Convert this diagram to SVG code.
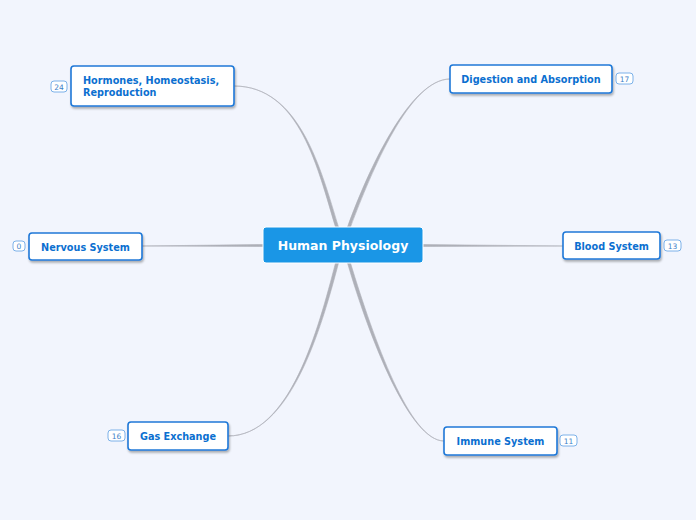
<svg xmlns="http://www.w3.org/2000/svg" width="696" height="520" viewBox="0 0 696 520">
<defs>
<filter id="sh" x="-10%" y="-20%" width="120%" height="150%">
<feDropShadow dx="1" dy="2" stdDeviation="1" flood-color="#000" flood-opacity="0.3"/>
</filter>
<style>
.node{fill:#fff;stroke:#1f78d8;stroke-width:1.6;filter:url(#sh)}
.nt{font-family:"DejaVu Sans",Verdana,sans-serif;font-weight:bold;font-size:9.7px;fill:#0b6fd0}
.badge{fill:#fff;stroke:#5d9fe3;stroke-width:0.8}
.bt{font-family:"DejaVu Sans",Verdana,sans-serif;font-size:7.5px;fill:#3d7fc9;text-anchor:middle}
.con{fill:#aeb0b8;stroke:#aeb0b8;stroke-width:0.6}
</style>
</defs>
<rect width="696" height="520" fill="#f2f5fd"/>
<g id="connectors">
<path class="con" d="M234,86 C300,86 318,170 335.5,227 L338.5,227 C321,170 300,86 234,86 Z"/>
<path class="con" d="M450,79 C410,79 368,170 347.5,227 L350.5,227 C372,170 410,79 450,79 Z"/>
<path class="con" d="M142,246 L263,244.5 L263,246.5 Z"/>
<path class="con" d="M563,246 L423,244.5 L423,246.5 Z"/>
<path class="con" d="M228,436 C290,436 318,330 335.5,263 L338.5,263 C321,330 290,436 228,436 Z"/>
<path class="con" d="M444,441 C410,441 370,340 347.5,263 L350.5,263 C374,340 410,441 444,441 Z"/>
</g>
<g id="center">
<rect x="263" y="227" width="160" height="36" rx="3" fill="#1a96e6" stroke="#fff" stroke-width="1"/>
<text x="343" y="250" text-anchor="middle" font-family="DejaVu Sans,Verdana,sans-serif" font-weight="bold" font-size="12.5" fill="#fff">Human Physiology</text>
</g>
<g id="hormones">
<rect class="node" x="71" y="66" width="163" height="40" rx="3"/>
<text class="nt" x="83" y="84">Hormones, Homeostasis,</text>
<text class="nt" x="83" y="96">Reproduction</text>
<rect class="badge" x="51" y="81" width="16" height="11" rx="3"/>
<text class="bt" x="59" y="89.5">24</text>
</g>
<g id="digestion">
<rect class="node" x="450" y="65" width="162" height="28" rx="3"/>
<text class="nt" x="531" y="83" text-anchor="middle">Digestion and Absorption</text>
<rect class="badge" x="616" y="73" width="17" height="11" rx="3"/>
<text class="bt" x="624.5" y="81.5">17</text>
</g>
<g id="nervous">
<rect class="node" x="29" y="233" width="113" height="27" rx="3"/>
<text class="nt" x="85.5" y="250.5" text-anchor="middle">Nervous System</text>
<rect class="badge" x="13" y="241" width="12" height="10" rx="3"/>
<text class="bt" x="19" y="249">0</text>
</g>
<g id="blood">
<rect class="node" x="563" y="232" width="97" height="27" rx="3"/>
<text class="nt" x="611.5" y="249.5" text-anchor="middle">Blood System</text>
<rect class="badge" x="664" y="240" width="17" height="11" rx="3"/>
<text class="bt" x="672.5" y="248.5">13</text>
</g>
<g id="gas">
<rect class="node" x="128" y="422" width="100" height="28" rx="3"/>
<text class="nt" x="178" y="440" text-anchor="middle">Gas Exchange</text>
<rect class="badge" x="108" y="430" width="17" height="11" rx="3"/>
<text class="bt" x="116.5" y="438.5">16</text>
</g>
<g id="immune">
<rect class="node" x="444" y="427" width="113" height="28" rx="3"/>
<text class="nt" x="500.5" y="445" text-anchor="middle">Immune System</text>
<rect class="badge" x="560" y="435" width="17" height="11" rx="3"/>
<text class="bt" x="568.5" y="443.5">11</text>
</g>
</svg>
